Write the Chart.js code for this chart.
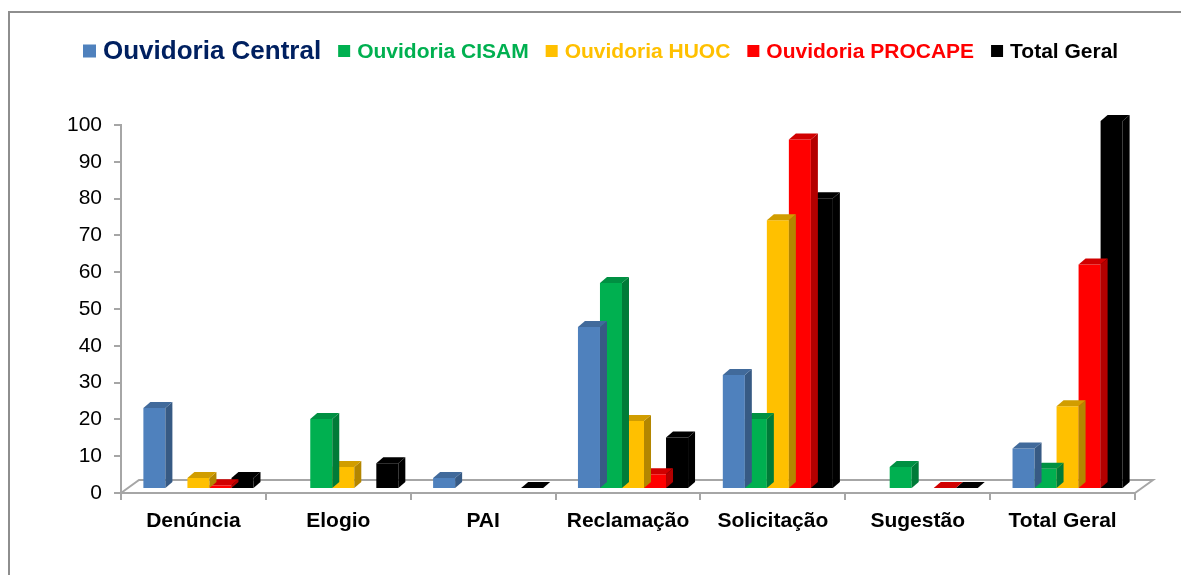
<!DOCTYPE html>
<html>
<head>
<meta charset="utf-8">
<script src="https://cdn.jsdelivr.net/npm/chart.js@4.4.1/dist/chart.umd.min.js"></script>
<style>
  body { margin: 0; background: #fff; }
  #frame { position: absolute; left: 8px; top: 11px; width: 1200px; height: 600px;
           border-left: 2px solid #8e8e8e; border-top: 2px solid #8e8e8e; }
  #chart { position: absolute; left: 0; top: 0; }
</style>
</head>
<body>
<div id="frame"></div>
<canvas id="chart" width="1181" height="575"></canvas>
<script>
// Categories and series values
const categories = ['Denúncia', 'Elogio', 'PAI', 'Reclamação', 'Solicitação', 'Sugestão', 'Total Geral'];
const seriesNames = ['Ouvidoria Central', 'Ouvidoria CISAM', 'Ouvidoria HUOC', 'Ouvidoria PROCAPE', 'Total Geral'];
const central  = [22, null, 3, 44, 31, null, 11];
const cisam    = [null, 19, null, 56, 19, 6, 5.5];
const huoc     = [3, 6, null, 18.5, 73, null, 22.5];
const procape  = [1, null, null, 4, 95, 0.3, 61];
const total    = [3, 7, 0.3, 14, 79, 0.3, 100];
const yTicksMax = 100;

const barColors  = ['#4F81BD', '#00B050', '#FFC000', '#FF0000', '#000000'];
const textColors = ['#002060', '#00B050', '#FFC000', '#FF0000', '#000000'];

// 3D look: depth of each bar and of the floor
const DEPTH_X = 7, DEPTH_Y = 6;
const FLOOR_X = 18, FLOOR_Y = 13;
const SHIFT_X = 5, SHIFT_Y = -4;

function shade(hex, f) {
    const n = parseInt(hex.slice(1), 16);
    const r = Math.round(((n >> 16) & 255) * f);
    const g = Math.round(((n >> 8) & 255) * f);
    const b = Math.round((n & 255) * f);
    return `rgb(${r},${g},${b})`;
}

const bars3d = {
    id: 'bars3d',
    beforeDatasetsDraw(chart) {
        const { ctx, chartArea: a } = chart;
        ctx.save();
        ctx.strokeStyle = '#A6A6A6';
        ctx.lineWidth = 2;
        ctx.beginPath();
        ctx.moveTo(a.left, a.bottom);
        ctx.lineTo(a.left + FLOOR_X, a.bottom - FLOOR_Y);
        ctx.lineTo(a.right + FLOOR_X, a.bottom - FLOOR_Y);
        ctx.lineTo(a.right, a.bottom);
        ctx.stroke();
        ctx.restore();
        // push bars back onto the floor
        ctx.save();
        ctx.translate(SHIFT_X, SHIFT_Y);
    },
    afterDatasetDraw(chart, args) {
        const ctx = chart.ctx;
        const ds = chart.data.datasets[args.index];
        const col = barColors[args.index];
        args.meta.data.forEach((el, j) => {
            if (ds.data[j] == null) return;
            const { x, y, base, width } = el.getProps(['x', 'y', 'base', 'width'], true);
            const l = x - width / 2, r = x + width / 2;
            // side face
            if (base - y > 0.5) {
                ctx.fillStyle = shade(col, 0.7);
                ctx.beginPath();
                ctx.moveTo(r, y);
                ctx.lineTo(r + DEPTH_X, y - DEPTH_Y);
                ctx.lineTo(r + DEPTH_X, base - DEPTH_Y);
                ctx.lineTo(r, base);
                ctx.closePath();
                ctx.fill();
            }
            // top face
            ctx.fillStyle = shade(col, 0.82);
            ctx.beginPath();
            ctx.moveTo(l, y);
            ctx.lineTo(l + DEPTH_X, y - DEPTH_Y);
            ctx.lineTo(r + DEPTH_X, y - DEPTH_Y);
            ctx.lineTo(r, y);
            ctx.closePath();
            ctx.fill();
        });
    },
    afterDatasetsDraw(chart) {
        chart.ctx.restore();
    }
};

// Legend drawn by hand: first entry uses a larger font
const legendFonts = [26, 21, 21, 21, 21];
const legendBoxes = [13, 12, 12, 12, 12];
const customLegend = {
    id: 'customLegend',
    afterDraw(chart) {
        const ctx = chart.ctx;
        let x = 83;
        const cy = 52;
        ctx.save();
        ctx.textBaseline = 'middle';
        seriesNames.forEach((name, i) => {
            const b = legendBoxes[i];
            ctx.fillStyle = barColors[i];
            ctx.fillRect(x, cy - b / 2 - 1, b, b);
            x += b + 7;
            ctx.font = `bold ${legendFonts[i]}px "Liberation Sans", Arial, sans-serif`;
            ctx.fillStyle = textColors[i];
            ctx.fillText(name, x, cy);
            x += ctx.measureText(name).width + 17;
        });
        ctx.restore();
    }
};

const seriesData = [central, cisam, huoc, procape, total];

new Chart(document.getElementById('chart'), {
    type: 'bar',
    data: {
        labels: categories,
        datasets: seriesNames.map((name, i) => ({
            label: name,
            data: seriesData[i],
            backgroundColor: barColors[i],
            borderWidth: 0,
            categoryPercentage: 0.76,
            barPercentage: 1,
            clip: false
        }))
    },
    options: {
        responsive: false,
        animation: false,
        devicePixelRatio: 1,
        layout: { padding: { top: 125, right: 46, left: 0, bottom: 0 } },
        plugins: {
            legend: { display: false },
            tooltip: { enabled: false }
        },
        scales: {
            x: {
                afterFit(scale) { scale.height = 82; },
                grid: { drawOnChartArea: false, tickLength: 7, color: '#A6A6A6', lineWidth: 2 },
                border: { color: '#A6A6A6', width: 2 },
                ticks: {
                    color: '#000',
                    padding: 9,
                    font: { family: '"Liberation Sans", Arial, sans-serif', size: 21, weight: 'bold' }
                }
            },
            y: {
                min: 0,
                max: yTicksMax,
                afterFit(scale) { scale.width = 121; },
                grid: { drawOnChartArea: false, tickLength: 7, color: '#A6A6A6', lineWidth: 2 },
                border: { color: '#A6A6A6', width: 2 },
                ticks: {
                    stepSize: 10,
                    color: '#000',
                    padding: 12,
                    font: { family: '"Liberation Sans", Arial, sans-serif', size: 21 }
                }
            }
        }
    },
    plugins: [bars3d, customLegend]
});
</script>
</body>
</html>
